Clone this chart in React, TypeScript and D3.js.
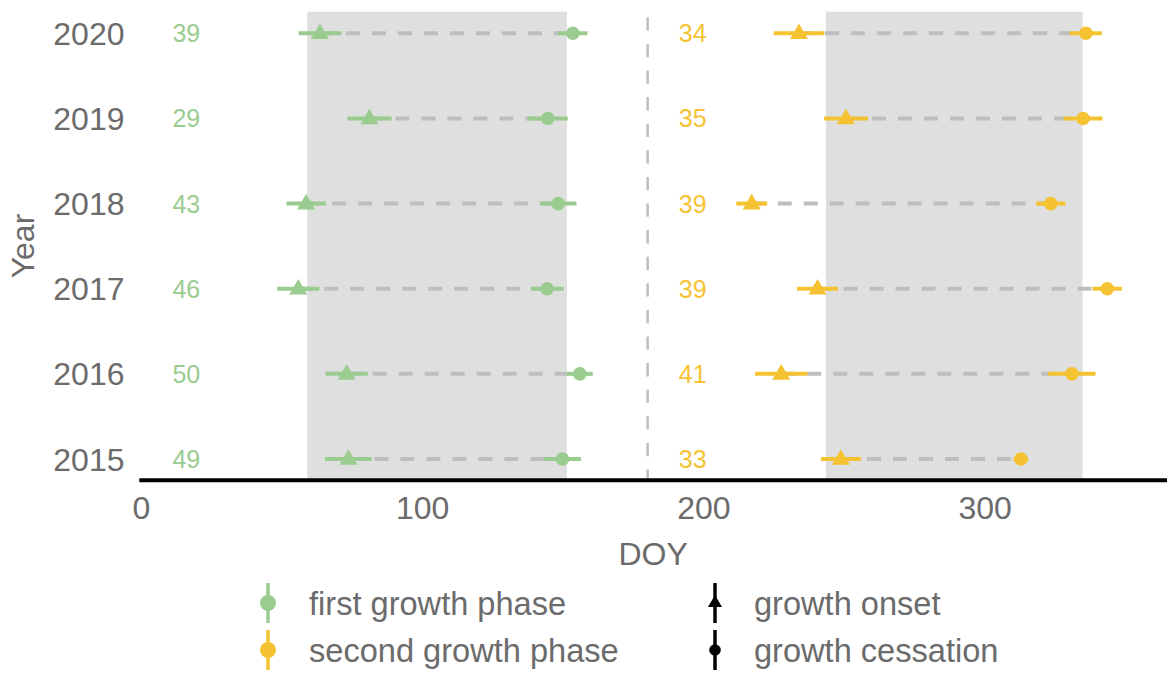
import React from "react";
import * as d3 from "d3";

const years = [2015, 2016, 2017, 2018, 2019, 2020];
const firstOnset = [73.6, 73.0, 55.8, 58.6, 81.1, 63.5];
const firstOnsetErr = [8.3, 7.5, 7.5, 7.0, 7.9, 7.6];
const firstCess = [149.7, 155.9, 144.3, 148.2, 144.5, 153.4];
const firstCessErr = [6.6, 4.6, 5.8, 6.5, 7.1, 5.2];
const secondOnset = [248.7, 227.5, 240.4, 217.0, 250.5, 233.8];
const secondOnsetErr = [7.1, 9.3, 7.3, 5.5, 7.8, 9.0];
const secondCess = [312.7, 330.8, 343.4, 323.3, 334.8, 335.8];
const secondCessErr = [2.6, 8.4, 5.2, 5.2, 6.9, 5.7];
const firstCount = [49, 50, 46, 43, 29, 39];
const secondCount = [33, 41, 39, 39, 35, 34];
const shadeFirst = [59, 151.3];
const shadeSecond = [243.4, 334.6];
const midYear = 180;
const labelPosFirst = 16;
const labelPosSecond = 196;
const xTicks = [0, 100, 200, 300];
const phaseNames = ["first growth phase", "second growth phase"];
const eventNames = ["growth onset", "growth cessation"];

const GREEN = "#99CC8E";
const YELLOW = "#F5C332";
const GRAY_TXT = "#6B6B6B";
const FONT = "'Liberation Sans', Arial, Helvetica, sans-serif";

const W = 1167;
const H = 673;
const panelTop = 11.7;
const panelBottom = 480.3;

const x = d3.scaleLinear().domain([0, 365]).range([141.3, 141.3 + 365 * 2.813]);
const y = d3.scaleLinear().domain([2015, 2020]).range([459, 33.3]);

function tri(cx: number, cy: number, w: number) {
  const h = (w * Math.sqrt(3)) / 2;
  const p = d3.path();
  p.moveTo(cx, cy - (2 * h) / 3);
  p.lineTo(cx + w / 2, cy + h / 3);
  p.lineTo(cx - w / 2, cy + h / 3);
  p.closePath();
  return p.toString();
}

type Phase = {
  onset: number[];
  onsetErr: number[];
  cess: number[];
  cessErr: number[];
  count: number[];
  color: string;
  labelPos: number;
};

const phases: Phase[] = [
  { onset: firstOnset, onsetErr: firstOnsetErr, cess: firstCess, cessErr: firstCessErr, count: firstCount, color: GREEN, labelPos: labelPosFirst },
  { onset: secondOnset, onsetErr: secondOnsetErr, cess: secondCess, cessErr: secondCessErr, count: secondCount, color: YELLOW, labelPos: labelPosSecond },
];

export default function App() {
  return (
    <svg width={W} height={H} style={{ position: "absolute", left: 0, top: 0, background: "#fff" }} fontFamily={FONT}>
      {[shadeFirst, shadeSecond].map((s, i) => (
        <rect key={i} x={x(s[0])} y={panelTop} width={x(s[1]) - x(s[0])} height={panelBottom - panelTop} fill="#DFDFDF" />
      ))}
      <line x1={x(midYear)} x2={x(midYear)} y1={17.3} y2={panelBottom} stroke="#BEBEBE" strokeWidth={2.5} strokeDasharray="13.3 13.3" />
      {phases.map((ph, pi) =>
        years.map((yr, i) => (
          <line key={`c${pi}-${i}`} x1={x(ph.onset[i])} x2={x(ph.cess[i])} y1={y(yr)} y2={y(yr)} stroke="#BEBEBE" strokeWidth={4} strokeDasharray="14 12" />
        ))
      )}
      {phases.map((ph, pi) =>
        years.map((yr, i) => (
          <g key={`e${pi}-${i}`} stroke={ph.color} strokeWidth={4}>
            <line x1={x(ph.onset[i] - ph.onsetErr[i])} x2={x(ph.onset[i] + ph.onsetErr[i])} y1={y(yr)} y2={y(yr)} />
            <line x1={x(ph.cess[i] - ph.cessErr[i])} x2={x(ph.cess[i] + ph.cessErr[i])} y1={y(yr)} y2={y(yr)} />
          </g>
        ))
      )}
      {phases.map((ph, pi) =>
        years.map((yr, i) => (
          <g key={`p${pi}-${i}`} fill={ph.color}>
            <path d={tri(x(ph.onset[i]), y(yr) + 0.6, 18)} />
            <circle cx={x(ph.cess[i])} cy={y(yr)} r={6.8} />
          </g>
        ))
      )}
      {phases.map((ph, pi) =>
        years.map((yr, i) => (
          <text key={`t${pi}-${i}`} x={x(ph.labelPos)} y={y(yr) + 9} fill={ph.color} fontSize={25} textAnchor="middle">
            {ph.count[i]}
          </text>
        ))
      )}
      <line x1={139.3} x2={W} y1={panelBottom} y2={panelBottom} stroke="#000" strokeWidth={4} />
      {xTicks.map((t) => (
        <text key={t} x={x(t)} y={519.3} fontSize={32} fill={GRAY_TXT} textAnchor="middle">
          {t}
        </text>
      ))}
      <text x={(139.3 + W) / 2} y={565} fontSize={32} fill={GRAY_TXT} textAnchor="middle">
        DOY
      </text>
      {years.map((yr) => (
        <text key={yr} x={124.5} y={y(yr) + 11.5} fontSize={32} fill={GRAY_TXT} textAnchor="end">
          {yr}
        </text>
      ))}
      <text transform={`translate(34,246) rotate(-90)`} fontSize={32} fill={GRAY_TXT} textAnchor="middle">
        Year
      </text>
      {[GREEN, YELLOW].map((c, i) => {
        const cy = 603 + i * 47;
        return (
          <g key={`lg${i}`}>
            <line x1={268} x2={268} y1={cy - 20} y2={cy + 20} stroke={c} strokeWidth={3.5} />
            <circle cx={268} cy={cy} r={8} fill={c} />
            <text x={309} y={cy + 11.5} fontSize={32.6} fill={GRAY_TXT}>
              {phaseNames[i]}
            </text>
          </g>
        );
      })}
      {[0, 1].map((i) => {
        const cy = 603 + i * 47;
        return (
          <g key={`le${i}`}>
            <line x1={715} x2={715} y1={cy - 20} y2={cy + 20} stroke="#000" strokeWidth={3.5} />
            {i === 0 ? <path d={tri(715, cy, 14)} fill="#000" /> : <circle cx={715} cy={cy} r={5.8} fill="#000" />}
            <text x={754} y={cy + 11.5} fontSize={32.6} fill={GRAY_TXT}>
              {eventNames[i]}
            </text>
          </g>
        );
      })}
    </svg>
  );
}
